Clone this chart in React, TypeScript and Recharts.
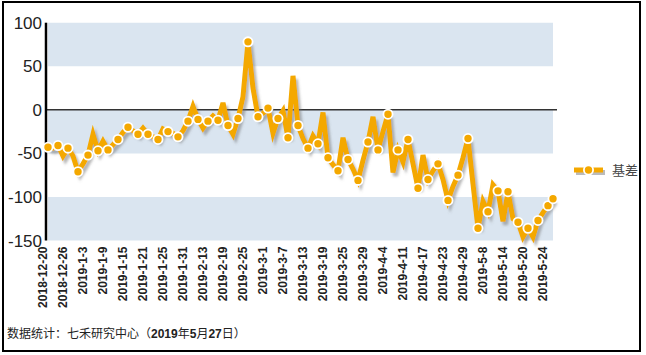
import React from 'react';
import { LineChart, Line, XAxis, YAxis, ReferenceArea, ReferenceLine, Legend } from 'recharts';

const dates = [
  '2018-12-20','2018-12-21','2018-12-24','2018-12-25','2018-12-26','2018-12-27','2018-12-28',
  '2019-1-2','2019-1-3','2019-1-4','2019-1-7','2019-1-8','2019-1-9','2019-1-10','2019-1-11','2019-1-14','2019-1-15','2019-1-16','2019-1-17','2019-1-18','2019-1-21','2019-1-22','2019-1-23','2019-1-24','2019-1-25','2019-1-28','2019-1-29','2019-1-30','2019-1-31',
  '2019-2-1','2019-2-11','2019-2-12','2019-2-13','2019-2-14','2019-2-15','2019-2-18','2019-2-19','2019-2-20','2019-2-21','2019-2-22','2019-2-25','2019-2-26','2019-2-27','2019-2-28',
  '2019-3-1','2019-3-4','2019-3-5','2019-3-6','2019-3-7','2019-3-8','2019-3-11','2019-3-12','2019-3-13','2019-3-14','2019-3-15','2019-3-18','2019-3-19','2019-3-20','2019-3-21','2019-3-22','2019-3-25','2019-3-26','2019-3-27','2019-3-28','2019-3-29',
  '2019-4-1','2019-4-2','2019-4-3','2019-4-4','2019-4-8','2019-4-9','2019-4-10','2019-4-11','2019-4-12','2019-4-15','2019-4-16','2019-4-17','2019-4-18','2019-4-19','2019-4-22','2019-4-23','2019-4-24','2019-4-25','2019-4-26','2019-4-29','2019-4-30',
  '2019-5-6','2019-5-7','2019-5-8','2019-5-9','2019-5-10','2019-5-13','2019-5-14','2019-5-15','2019-5-16','2019-5-17','2019-5-20','2019-5-21','2019-5-22','2019-5-23','2019-5-24','2019-5-27',
];

const basis = [
  -43, -44, -41, -53, -44, -53, -71, -62, -52, -28,
  -47, -36, -46, -40, -34, -26, -20, -24, -28, -21,
  -28, -31, -34, -22, -25, -27, -31, -24, -13, 4,
  -11, -21, -13, -7, -12, 8, -18, -28, -10, 15,
  78, 25, -8, -4, 2, -27, -10, -1, -32, 39,
  -18, -33, -44, -30, -39, -3, -55, -63, -70, -32,
  -57, -68, -81, -58, -37, -8, -46, -25, -5, -72,
  -46, -60, -34, -62, -90, -52, -80, -70, -62, -80,
  -104, -88, -75, -55, -33, -85, -136, -105, -117, -86,
  -93, -128, -94, -125, -129, -146, -136, -146, -127, -118,
  -110, -102,
];

const tickLabels = [
  '2018-12-20','2018-12-26','2019-1-3','2019-1-9','2019-1-15','2019-1-21','2019-1-25','2019-1-31',
  '2019-2-13','2019-2-19','2019-2-25','2019-3-1','2019-3-7','2019-3-13','2019-3-19','2019-3-25',
  '2019-3-29','2019-4-4','2019-4-11','2019-4-17','2019-4-23','2019-4-29','2019-5-8','2019-5-14',
  '2019-5-20','2019-5-24',
];

const yTicks = [100, 50, 0, -50, -100, -150];
const seriesName = '基差';
const footerParts = ['数据统计：七禾研究中心（', '2019', '年', '5', '月', '27', '日）'];

const data = dates.map((d, i) => ({ date: d, basis: basis[i] }));

const LINE_COLOR = '#F4A800';
const BAND_COLOR = '#DAE5F0';
const FONT = '"Liberation Sans", Arial, "Noto Sans CJK SC", sans-serif';

const XTick = (props: any) => {
  const { x, y, payload } = props;
  return (
    <text
      transform={`translate(${x - 5},${y - 2}) rotate(-90)`}
      textAnchor="end"
      dominantBaseline="central"
      fontSize={12}
      fontWeight="bold"
      fill="#222"
      fontFamily={FONT}
    >
      {payload.value}
    </text>
  );
};

const Dot = (props: any) => {
  const { cx, cy, index } = props;
  if (!(index % 2 === 0 || index === basis.length - 1)) {
    return <g key={`d-${index}`} />;
  }
  return (
    <circle key={`d-${index}`} cx={cx} cy={cy} r={4.6} fill={LINE_COLOR} stroke="#fff" strokeWidth={1.8} />
  );
};

const LegendContent = () => (
  <div style={{ display: 'flex', alignItems: 'center' }}>
    <svg width={36} height={16}>
      <line x1={3} y1={10.5} x2={32} y2={10.5} stroke="#bbb" strokeWidth={5} />
      <line x1={1} y1={8} x2={30} y2={8} stroke={LINE_COLOR} strokeWidth={5} />
      <circle cx={15.5} cy={8} r={4.6} fill={LINE_COLOR} stroke="#fff" strokeWidth={1.8} />
    </svg>
    <span style={{ fontSize: 13, color: '#444', fontFamily: '"Noto Sans CJK SC", sans-serif', marginLeft: 3 }}>
      {seriesName}
    </span>
  </div>
);

export default function App() {
  return (
    <div style={{ position: 'absolute', left: 0, top: 0, width: 646, height: 355, background: '#fff' }}>
      <svg width={0} height={0} style={{ position: 'absolute' }}>
        <defs>
          <filter id="lineShadow" x="-10%" y="-10%" width="120%" height="130%">
            <feDropShadow dx={2.5} dy={3.5} stdDeviation={0.9} floodColor="#707070" floodOpacity={0.5} />
          </filter>
        </defs>
      </svg>
      <div
        style={{
          position: 'absolute',
          left: 2,
          top: 1,
          width: 639,
          height: 351,
          border: '2px solid #000',
          boxSizing: 'border-box',
        }}
      />
      <div style={{ position: 'absolute', left: 0, top: 0 }}>
        <LineChart
          width={646}
          height={355}
          data={data}
          margin={{ top: 22.7, right: 89, left: 6, bottom: 44.5 }}
        >
          <ReferenceArea y1={50} y2={100} fill={BAND_COLOR} fillOpacity={1} stroke="none" ifOverflow="visible" />
          <ReferenceArea y1={-50} y2={0} fill={BAND_COLOR} fillOpacity={1} stroke="none" ifOverflow="visible" />
          <ReferenceArea y1={-150} y2={-100} fill={BAND_COLOR} fillOpacity={1} stroke="none" ifOverflow="visible" />
          <ReferenceLine y={0} stroke="#333" strokeWidth={1.5} />
          <XAxis
            dataKey="date"
            ticks={tickLabels}
            interval={0}
            axisLine={false}
            tickLine={false}
            height={70}
            padding={{ left: 2, right: 4 }}
            tick={<XTick />}
          />
          <YAxis
            domain={[-150, 100]}
            ticks={yTicks}
            interval={0}
            width={40}
            tickLine={false}
            tickSize={0}
            tickMargin={4}
            axisLine={{ stroke: '#000', strokeWidth: 2.5 }}
            tick={{ fontSize: 17, fill: '#222', fontFamily: FONT }}
          />
          <Legend
            layout="horizontal"
            verticalAlign="middle"
            align="center"
            width={80}
            wrapperStyle={{ left: 573, top: 160 }}
            content={<LegendContent />}
          />
          <Line
            type="linear"
            dataKey="basis"
            name={seriesName}
            stroke={LINE_COLOR}
            strokeWidth={5}
            filter="url(#lineShadow)"
            dot={<Dot />}
            activeDot={false}
            isAnimationActive={false}
          />
        </LineChart>
      </div>
      <div
        style={{
          position: 'absolute',
          left: 7,
          top: 326,
          fontSize: 12,
          lineHeight: '16px',
          color: '#222',
          fontFamily: FONT,
          whiteSpace: 'nowrap',
        }}
      >
        {footerParts.map((p, i) => (
          <span key={i} style={{ fontWeight: /\d/.test(p) ? 'bold' : 'normal' }}>{p}</span>
        ))}
      </div>
    </div>
  );
}
